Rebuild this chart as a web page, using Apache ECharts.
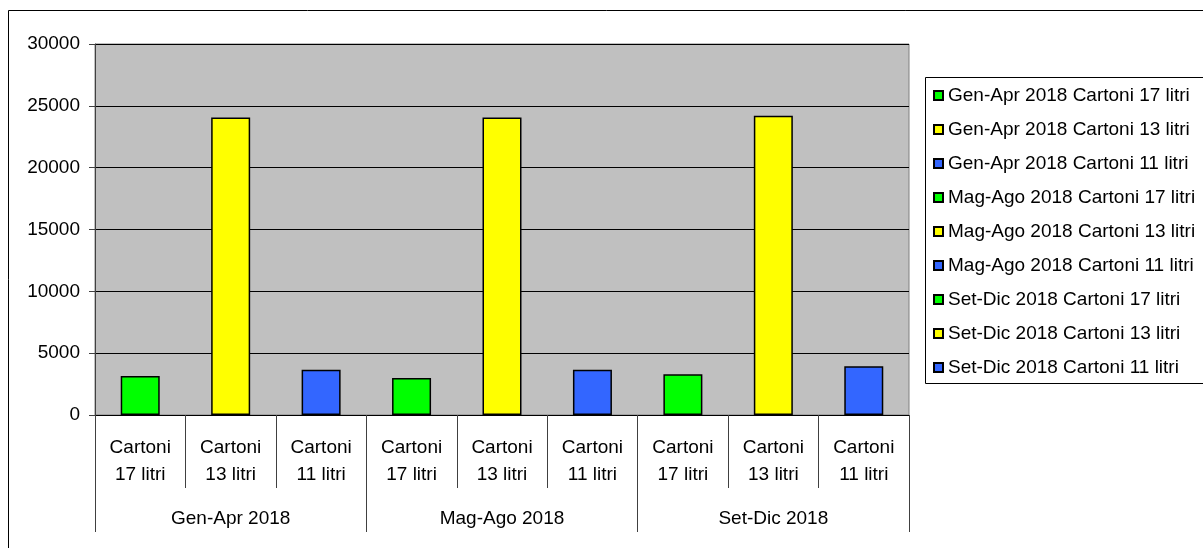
<!DOCTYPE html>
<html>
<head>
<meta charset="utf-8">
<script src="https://cdn.jsdelivr.net/npm/echarts@6/dist/echarts.min.js"></script>
<style>
  html, body { margin: 0; padding: 0; background: #fff; }
  #chart { width: 1203px; height: 548px; }
</style>
</head>
<body>
<div id="chart"></div>
<script>
// dati
var periods = ["Gen-Apr 2018", "Mag-Ago 2018", "Set-Dic 2018"];
var cartons = ["Cartoni\n17 litri", "Cartoni\n13 litri", "Cartoni\n11 litri"];
var cartonNames = ["Cartoni 17 litri", "Cartoni 13 litri", "Cartoni 11 litri"];
var values = [3150, 24050, 3650, 3000, 24050, 3650, 3300, 24200, 3950];
var colors = ["#00ff00", "#ffff00", "#3366ff"];
var yTicks = [0, 5000, 10000, 15000, 20000, 25000, 30000];

var font = "Liberation Sans, Arial, sans-serif";

// categorie dell'asse interno: 3 per periodo
var categories = [];
periods.forEach(function () {
  cartons.forEach(function (c) { categories.push(c); });
});

// una serie per ogni barra, come nella legenda
var series = [];
periods.forEach(function (p, pi) {
  cartonNames.forEach(function (c, ci) {
    var idx = pi * 3 + ci;
    var data = categories.map(function (_, k) {
      return k === idx ? values[idx] : null;
    });
    series.push({
      name: p + " " + c,
      type: "bar",
      data: data,
      barWidth: 39,
      barGap: "-100%",
      itemStyle: { color: colors[ci], borderColor: "#000", borderWidth: 1.5 },
    });
  });
});

var chart = echarts.init(document.getElementById("chart"), null, { renderer: "canvas" });

var option = {
  animation: false,
  textStyle: { fontFamily: font },
  graphic: [
    // cornice esterna del grafico
    {
      type: "rect",
      shape: { x: 8.5, y: 10.5, width: 1400, height: 800 },
      style: { fill: null, stroke: "#000", lineWidth: 1 },
      z: -10,
    },
    // cornice della legenda (esce dal bordo destro)
    {
      type: "rect",
      shape: { x: 925.5, y: 77.5, width: 400, height: 306 },
      style: { fill: null, stroke: "#000", lineWidth: 1 },
      z: -5,
    },
  ],
  grid: {
    left: 95,
    right: 294,
    top: 44,
    bottom: 133,
    show: true,
    backgroundColor: "#c0c0c0",
    borderColor: "#808080",
    borderWidth: 1,
  },
  legend: {
    orient: "vertical",
    left: 925,
    top: 77,
    padding: [9, 8, 8, 8],
    borderWidth: 0,
    itemWidth: 9,
    itemHeight: 9,
    itemGap: 15,
    icon: "rect",
    textStyle: { fontFamily: font, fontSize: 19, color: "#000" },
    data: series.map(function (s) { return s.name; }),
  },
  xAxis: [
    {
      type: "category",
      position: "bottom",
      data: categories,
      axisLine: { lineStyle: { color: "#000", width: 1 } },
      axisTick: { show: true, length: 73, lineStyle: { color: "#404040" } },
      axisLabel: {
        interval: 0,
        margin: 19,
        fontSize: 19,
        lineHeight: 27,
        color: "#000",
        fontFamily: font,
      },
    },
    {
      type: "category",
      position: "bottom",
      data: periods,
      axisLine: { show: false },
      axisTick: { show: true, length: 117, lineStyle: { color: "#404040" } },
      axisLabel: {
        interval: 0,
        margin: 94,
        fontSize: 19,
        color: "#000",
        fontFamily: font,
      },
    },
  ],
  yAxis: {
    type: "value",
    min: yTicks[0],
    max: yTicks[yTicks.length - 1],
    interval: 5000,
    axisLine: { show: true, lineStyle: { color: "#404040" } },
    axisTick: { show: true, length: 6, lineStyle: { color: "#404040" } },
    axisLabel: {
      fontSize: 19,
      color: "#000",
      margin: 15,
      fontFamily: font,
      formatter: function (v) { return String(v); },
    },
    splitLine: { lineStyle: { color: "#000", width: 1 } },
  },
  series: series,
};

chart.setOption(option);
</script>
</body>
</html>
